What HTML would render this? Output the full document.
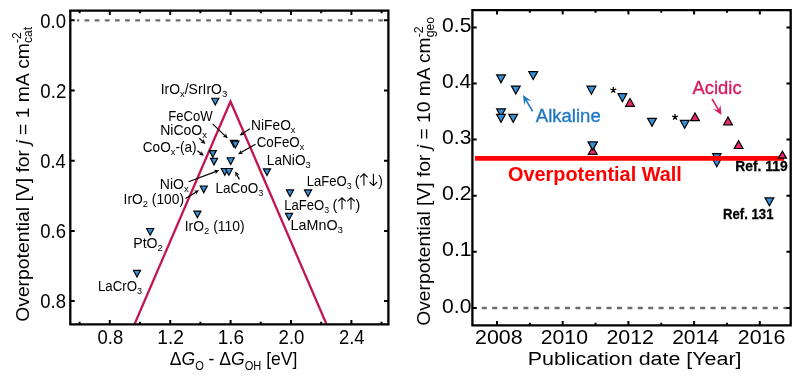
<!DOCTYPE html>
<html><head><meta charset="utf-8"><style>
html,body{margin:0;padding:0;background:#fff;width:800px;height:376px;overflow:hidden}
svg{display:block;font-family:"Liberation Sans", sans-serif;will-change:transform}
</style></head><body>
<svg width="800" height="376" viewBox="0 0 800 376">
<rect width="800" height="376" fill="#fff"/>
<g id="left">
<line x1="77" y1="20.35" x2="387.5" y2="20.35" stroke="#6c6c6c" stroke-width="2.4" stroke-dasharray="4.8 5.33" stroke-dashoffset="2.6"/>
<clipPath id="lclip"><rect x="71.5" y="11.5" width="316" height="312.2"/></clipPath>
<polyline points="133.3,327 230.5,101.5 327.7,327" fill="none" stroke="#c3174f" stroke-width="2.3" stroke-linejoin="miter" stroke-miterlimit="10" clip-path="url(#lclip)"/>
<path d="M70.3,10.6H388.4V324.4H70.3Z" fill="none" stroke="#000" stroke-width="2.3"/>
<path d="M109.80,324.4V320.10M109.80,10.6V14.90M170.20,324.4V320.10M170.20,10.6V14.90M230.60,324.4V320.10M230.60,10.6V14.90M291.00,324.4V320.10M291.00,10.6V14.90M351.40,324.4V320.10M351.40,10.6V14.90M79.60,324.4V321.80M79.60,10.6V13.20M140.00,324.4V321.80M140.00,10.6V13.20M200.40,324.4V321.80M200.40,10.6V13.20M260.80,324.4V321.80M260.80,10.6V13.20M321.20,324.4V321.80M321.20,10.6V13.20M381.60,324.4V321.80M381.60,10.6V13.20M70.3,20.30H74.70M388.4,20.30H384.00M70.3,90.50H74.70M388.4,90.50H384.00M70.3,160.70H74.70M388.4,160.70H384.00M70.3,230.90H74.70M388.4,230.90H384.00M70.3,301.10H74.70M388.4,301.10H384.00" stroke="#000" stroke-width="2" fill="none"/>
</g>
<g id="right">
<line x1="476" y1="308.0" x2="787" y2="308.0" stroke="#6c6c6c" stroke-width="2.4" stroke-dasharray="5.0 5.4" stroke-dashoffset="4.6"/>
<path d="M472.4,10.1H790.7V325.4H472.4Z" fill="none" stroke="#000" stroke-width="2.3"/>
<path d="M497.00,325.4V320.90M497.00,10.1V14.60M562.70,325.4V320.90M562.70,10.1V14.60M628.40,325.4V320.90M628.40,10.1V14.60M694.10,325.4V320.90M694.10,10.1V14.60M759.80,325.4V320.90M759.80,10.1V14.60M529.85,325.4V322.80M529.85,10.1V12.70M595.55,325.4V322.80M595.55,10.1V12.70M661.25,325.4V322.80M661.25,10.1V12.70M726.95,325.4V322.80M726.95,10.1V12.70M472.4,307.90H476.70M790.7,307.90H786.40M472.4,251.80H476.70M790.7,251.80H786.40M472.4,195.70H476.70M790.7,195.70H786.40M472.4,139.60H476.70M790.7,139.60H786.40M472.4,83.50H476.70M790.7,83.50H786.40M472.4,27.40H476.70M790.7,27.40H786.40" stroke="#000" stroke-width="2" fill="none"/>
</g>
<g id="labels">
<g transform="translate(40.31,27.60) scale(0.9257,1)"><text x="0" y="0" font-size="20" font-weight="normal" fill="#000">0.0</text></g>
<g transform="translate(40.30,97.80) scale(0.9346,1)"><text x="0" y="0" font-size="20" font-weight="normal" fill="#000">0.2</text></g>
<g transform="translate(40.31,168.00) scale(0.9170,1)"><text x="0" y="0" font-size="20" font-weight="normal" fill="#000">0.4</text></g>
<g transform="translate(40.31,238.20) scale(0.9257,1)"><text x="0" y="0" font-size="20" font-weight="normal" fill="#000">0.6</text></g>
<g transform="translate(40.31,308.40) scale(0.9257,1)"><text x="0" y="0" font-size="20" font-weight="normal" fill="#000">0.8</text></g>
<g transform="translate(97.61,344.40) scale(0.9219,1)"><text x="0" y="0" font-size="20" font-weight="normal" fill="#000">0.8</text></g>
<g transform="translate(157.26,344.40) scale(0.9584,1)"><text x="0" y="0" font-size="20" font-weight="normal" fill="#000">1.2</text></g>
<g transform="translate(217.68,344.40) scale(0.9490,1)"><text x="0" y="0" font-size="20" font-weight="normal" fill="#000">1.6</text></g>
<g transform="translate(278.57,344.40) scale(0.9308,1)"><text x="0" y="0" font-size="20" font-weight="normal" fill="#000">2.0</text></g>
<g transform="translate(338.98,344.40) scale(0.9219,1)"><text x="0" y="0" font-size="20" font-weight="normal" fill="#000">2.4</text></g>
<g transform="translate(28.60,321.82) rotate(-90) scale(1.0180,1)"><text x="0" y="0" font-size="19" font-weight="normal" fill="#000">Overpotential [V] for <tspan dy="0" font-style="italic">j</tspan> = 1 mA cm<tspan dy="-7.5" font-size="12">-2</tspan><tspan dx="-10.67" dy="11.0" font-size="12">cat</tspan></text></g>
<g transform="translate(169.74,365.00) scale(0.9238,1)"><text x="0" y="0" font-size="19" font-weight="normal" fill="#000">Δ<tspan dy="0" font-style="italic">G</tspan><tspan dy="4.5" font-size="12">O</tspan><tspan dy="-4.5"> - Δ</tspan><tspan dy="0" font-style="italic">G</tspan><tspan dy="4.5" font-size="12">OH</tspan><tspan dy="-4.5"> [eV]</tspan></text></g>
<g transform="translate(160.65,93.75) scale(0.9962,1)"><text x="0" y="0" font-size="14" font-weight="normal" fill="#000">IrO<tspan dy="2.8" font-size="9.5">x</tspan><tspan dy="-2.8">/SrIrO</tspan><tspan dy="2.8" font-size="9.5">3</tspan></text></g>
<g transform="translate(168.33,121.20) scale(0.9370,1)"><text x="0" y="0" font-size="14" font-weight="normal" fill="#000">FeCoW</text></g>
<g transform="translate(160.25,134.80) scale(1.0000,1)"><text x="0" y="0" font-size="14" font-weight="normal" fill="#000">NiCoO<tspan dy="2.8" font-size="9.5">x</tspan></text></g>
<g transform="translate(142.77,151.80) scale(0.9730,1)"><text x="0" y="0" font-size="14" font-weight="normal" fill="#000">CoO<tspan dy="2.8" font-size="9.5">x</tspan><tspan dy="-2.8">-(a)</tspan></text></g>
<g transform="translate(251.07,129.90) scale(0.9851,1)"><text x="0" y="0" font-size="14" font-weight="normal" fill="#000">NiFeO<tspan dy="2.8" font-size="9.5">x</tspan></text></g>
<g transform="translate(256.68,147.00) scale(0.9551,1)"><text x="0" y="0" font-size="14" font-weight="normal" fill="#000">CoFeO<tspan dy="2.8" font-size="9.5">x</tspan></text></g>
<g transform="translate(266.78,165.00) scale(0.9770,1)"><text x="0" y="0" font-size="14" font-weight="normal" fill="#000">LaNiO<tspan dy="2.8" font-size="9.5">3</tspan></text></g>
<g transform="translate(159.75,189.00) scale(1.0036,1)"><text x="0" y="0" font-size="14" font-weight="normal" fill="#000">NiO<tspan dy="2.8" font-size="9.5">x</tspan></text></g>
<g transform="translate(123.57,204.30) scale(0.9873,1)"><text x="0" y="0" font-size="14" font-weight="normal" fill="#000">IrO<tspan dy="2.8" font-size="9.5">2</tspan><tspan dy="-2.8"> (100)</tspan></text></g>
<g transform="translate(215.39,193.00) scale(0.9667,1)"><text x="0" y="0" font-size="14" font-weight="normal" fill="#000">LaCoO<tspan dy="2.8" font-size="9.5">3</tspan></text></g>
<g transform="translate(184.76,230.90) scale(0.9923,1)"><text x="0" y="0" font-size="14" font-weight="normal" fill="#000">IrO<tspan dy="2.8" font-size="9.5">2</tspan><tspan dy="-2.8"> (110)</tspan></text></g>
<g transform="translate(306.73,185.90) scale(0.9333,1)"><text x="0" y="0" font-size="14" font-weight="normal" fill="#000">LaFeO<tspan dy="2.8" font-size="9.5">3</tspan></text></g>
<g transform="translate(354.67,185.90) scale(1.0286,1)"><text x="0" y="0" font-size="14" font-weight="normal" fill="#000">(</text></g>
<g transform="translate(378.25,185.90) scale(1.0000,1)"><text x="0" y="0" font-size="14" font-weight="normal" fill="#000">)</text></g>
<g transform="translate(284.33,209.80) scale(0.9333,1)"><text x="0" y="0" font-size="14" font-weight="normal" fill="#000">LaFeO<tspan dy="2.8" font-size="9.5">3</tspan></text></g>
<g transform="translate(332.57,209.80) scale(1.0286,1)"><text x="0" y="0" font-size="14" font-weight="normal" fill="#000">(</text></g>
<g transform="translate(355.44,209.80) scale(1.0286,1)"><text x="0" y="0" font-size="14" font-weight="normal" fill="#000">)</text></g>
<g transform="translate(290.62,229.80) scale(1.0231,1)"><text x="0" y="0" font-size="14" font-weight="normal" fill="#000">LaMnO<tspan dy="2.8" font-size="9.5">3</tspan></text></g>
<g transform="translate(133.24,248.30) scale(1.0090,1)"><text x="0" y="0" font-size="14" font-weight="normal" fill="#000">PtO<tspan dy="2.8" font-size="9.5">2</tspan></text></g>
<g transform="translate(97.92,291.30) scale(0.9467,1)"><text x="0" y="0" font-size="14" font-weight="normal" fill="#000">LaCrO<tspan dy="2.8" font-size="9.5">3</tspan></text></g>
<g transform="translate(442.11,312.50) scale(1.0552,1)"><text x="0" y="0" font-size="20" font-weight="normal" fill="#000">0.0</text></g>
<g transform="translate(442.10,256.40) scale(1.0654,1)"><text x="0" y="0" font-size="20" font-weight="normal" fill="#000">0.1</text></g>
<g transform="translate(442.10,200.30) scale(1.0654,1)"><text x="0" y="0" font-size="20" font-weight="normal" fill="#000">0.2</text></g>
<g transform="translate(442.11,144.20) scale(1.0552,1)"><text x="0" y="0" font-size="20" font-weight="normal" fill="#000">0.3</text></g>
<g transform="translate(442.12,88.10) scale(1.0453,1)"><text x="0" y="0" font-size="20" font-weight="normal" fill="#000">0.4</text></g>
<g transform="translate(442.11,32.00) scale(1.0552,1)"><text x="0" y="0" font-size="20" font-weight="normal" fill="#000">0.5</text></g>
<g transform="translate(475.03,344.00) scale(1.0682,1)"><text x="0" y="0" font-size="20" font-weight="normal" fill="#000">2008</text></g>
<g transform="translate(540.74,344.00) scale(1.0620,1)"><text x="0" y="0" font-size="20" font-weight="normal" fill="#000">2010</text></g>
<g transform="translate(606.43,344.00) scale(1.0682,1)"><text x="0" y="0" font-size="20" font-weight="normal" fill="#000">2012</text></g>
<g transform="translate(672.14,344.00) scale(1.0558,1)"><text x="0" y="0" font-size="20" font-weight="normal" fill="#000">2014</text></g>
<g transform="translate(737.83,344.00) scale(1.0682,1)"><text x="0" y="0" font-size="20" font-weight="normal" fill="#000">2016</text></g>
<g transform="translate(430.00,325.81) rotate(-90) scale(1.0140,1)"><text x="0" y="0" font-size="19" font-weight="normal" fill="#000">Overpotential [V] for <tspan dy="0" font-style="italic">j</tspan> = 10 mA cm<tspan dy="-7.5" font-size="12">-2</tspan><tspan dx="-10.67" dy="11.0" font-size="12">geo</tspan></text></g>
<g transform="translate(527.81,365.00) scale(1.1287,1)"><text x="0" y="0" font-size="19" font-weight="normal" fill="#000">Publication date [Year]</text></g>
<g transform="translate(535.80,121.60) scale(1.0031,1)"><text stroke="#1f78c0" stroke-width="0.35" x="0" y="0" font-size="18.5" font-weight="normal" fill="#1f78c0">Alkaline</text></g>
<g transform="translate(692.60,94.40) scale(0.9928,1)"><text stroke="#d81a60" stroke-width="0.35" x="0" y="0" font-size="18.5" font-weight="normal" fill="#d81a60">Acidic</text></g>
<g transform="translate(507.98,181.25) scale(1.0208,1)"><text x="0" y="0" font-size="19.5" font-weight="bold" fill="#ff0000">Overpotential Wall</text></g>
<g transform="translate(735.31,171.20) scale(0.9883,1)"><text stroke="#000" stroke-width="0.3" x="0" y="0" font-size="14" font-weight="bold" fill="#000">Ref. 119</text></g>
<g transform="translate(723.06,219.40) scale(0.9397,1)"><text stroke="#000" stroke-width="0.3" x="0" y="0" font-size="14" font-weight="bold" fill="#000">Ref. 131</text></g>
</g>
<path d="M211.72,98.28L218.88,98.28L215.30,105.03Z" fill="#3590d8" stroke="#000" stroke-width="1.15" stroke-linejoin="miter"/>
<path d="M230.22,140.38L237.38,140.38L233.80,147.14Z" fill="#3590d8" stroke="#000" stroke-width="1.15" stroke-linejoin="miter"/>
<path d="M231.82,141.17L238.98,141.17L235.40,147.94Z" fill="#3590d8" stroke="#000" stroke-width="1.15" stroke-linejoin="miter"/>
<path d="M209.22,150.57L216.38,150.57L212.80,157.34Z" fill="#3590d8" stroke="#000" stroke-width="1.15" stroke-linejoin="miter"/>
<path d="M210.42,158.38L217.58,158.38L214.00,165.14Z" fill="#3590d8" stroke="#000" stroke-width="1.15" stroke-linejoin="miter"/>
<path d="M227.12,157.77L234.28,157.77L230.70,164.53Z" fill="#3590d8" stroke="#000" stroke-width="1.15" stroke-linejoin="miter"/>
<path d="M221.22,168.47L228.38,168.47L224.80,175.24Z" fill="#3590d8" stroke="#000" stroke-width="1.15" stroke-linejoin="miter"/>
<path d="M225.32,168.47L232.48,168.47L228.90,175.24Z" fill="#3590d8" stroke="#000" stroke-width="1.15" stroke-linejoin="miter"/>
<path d="M263.42,168.88L270.58,168.88L267.00,175.64Z" fill="#3590d8" stroke="#000" stroke-width="1.15" stroke-linejoin="miter"/>
<path d="M200.22,185.97L207.38,185.97L203.80,192.74Z" fill="#3590d8" stroke="#000" stroke-width="1.15" stroke-linejoin="miter"/>
<path d="M193.82,211.07L200.98,211.07L197.40,217.84Z" fill="#3590d8" stroke="#000" stroke-width="1.15" stroke-linejoin="miter"/>
<path d="M304.42,189.88L311.58,189.88L308.00,196.64Z" fill="#3590d8" stroke="#000" stroke-width="1.15" stroke-linejoin="miter"/>
<path d="M286.42,189.88L293.58,189.88L290.00,196.64Z" fill="#3590d8" stroke="#000" stroke-width="1.15" stroke-linejoin="miter"/>
<path d="M285.42,213.38L292.58,213.38L289.00,220.14Z" fill="#3590d8" stroke="#000" stroke-width="1.15" stroke-linejoin="miter"/>
<path d="M146.62,228.47L153.78,228.47L150.20,235.24Z" fill="#3590d8" stroke="#000" stroke-width="1.15" stroke-linejoin="miter"/>
<path d="M133.42,270.38L140.58,270.38L137.00,277.14Z" fill="#3590d8" stroke="#000" stroke-width="1.15" stroke-linejoin="miter"/>
<line x1="212.60" y1="123.90" x2="225.35" y2="136.06" stroke="#000" stroke-width="1.2"/><path d="M227.70,138.30L222.43,136.59L225.35,136.06L225.74,133.11Z" fill="#000"/>
<line x1="199.30" y1="138.30" x2="203.01" y2="141.70" stroke="#000" stroke-width="1.2"/><path d="M205.40,143.90L200.09,142.29L203.01,141.70L203.34,138.75Z" fill="#000"/>
<line x1="197.40" y1="150.70" x2="201.26" y2="153.77" stroke="#000" stroke-width="1.2"/><path d="M203.80,155.80L198.39,154.56L201.26,153.77L201.39,150.81Z" fill="#000"/>
<line x1="249.90" y1="128.80" x2="242.32" y2="133.73" stroke="#000" stroke-width="1.2"/><path d="M239.60,135.50L242.48,130.76L242.32,133.73L245.10,134.79Z" fill="#000"/>
<line x1="255.50" y1="144.30" x2="240.83" y2="152.60" stroke="#000" stroke-width="1.2"/><path d="M238.00,154.20L241.17,149.65L240.83,152.60L243.53,153.83Z" fill="#000"/>
<line x1="188.60" y1="181.70" x2="216.15" y2="171.43" stroke="#000" stroke-width="1.2"/><path d="M219.20,170.30L215.35,174.29L216.15,171.43L213.68,169.80Z" fill="#000"/>
<line x1="185.50" y1="198.50" x2="196.23" y2="191.90" stroke="#000" stroke-width="1.2"/><path d="M199.00,190.20L196.00,194.86L196.23,191.90L193.48,190.77Z" fill="#000"/>
<line x1="239.40" y1="179.40" x2="236.74" y2="174.46" stroke="#000" stroke-width="1.2"/><path d="M235.20,171.60L239.68,174.86L236.74,174.46L235.46,177.14Z" fill="#000"/>
<path d="M363.90,185.60V174.40M360.10,177.40L363.90,173.80L367.70,177.40" stroke="#000" stroke-width="1.1" fill="none" stroke-linejoin="miter"/>
<path d="M373.40,173.80V185.00M369.60,182.00L373.40,185.60L377.20,182.00" stroke="#000" stroke-width="1.1" fill="none" stroke-linejoin="miter"/>
<path d="M342.00,209.60V198.40M338.20,201.40L342.00,197.80L345.80,201.40" stroke="#000" stroke-width="1.1" fill="none" stroke-linejoin="miter"/>
<path d="M351.00,209.60V198.40M347.20,201.40L351.00,197.80L354.80,201.40" stroke="#000" stroke-width="1.1" fill="none" stroke-linejoin="miter"/>
<path d="M496.61,74.90L505.39,74.90L501.00,82.88Z" fill="#3590d8" stroke="#000" stroke-width="1.2" stroke-linejoin="miter"/>
<path d="M528.81,71.60L537.59,71.60L533.20,79.58Z" fill="#3590d8" stroke="#000" stroke-width="1.2" stroke-linejoin="miter"/>
<path d="M511.41,86.10L520.19,86.10L515.80,94.08Z" fill="#3590d8" stroke="#000" stroke-width="1.2" stroke-linejoin="miter"/>
<path d="M496.61,108.80L505.39,108.80L501.00,116.78Z" fill="#3590d8" stroke="#000" stroke-width="1.2" stroke-linejoin="miter"/>
<path d="M496.61,114.40L505.39,114.40L501.00,122.38Z" fill="#3590d8" stroke="#000" stroke-width="1.2" stroke-linejoin="miter"/>
<path d="M508.81,114.40L517.59,114.40L513.20,122.38Z" fill="#3590d8" stroke="#000" stroke-width="1.2" stroke-linejoin="miter"/>
<path d="M587.01,86.20L595.79,86.20L591.40,94.18Z" fill="#3590d8" stroke="#000" stroke-width="1.2" stroke-linejoin="miter"/>
<path d="M588.31,142.00L597.09,142.00L592.70,149.98Z" fill="#3590d8" stroke="#000" stroke-width="1.2" stroke-linejoin="miter"/>
<path d="M618.01,93.70L626.79,93.70L622.40,101.68Z" fill="#3590d8" stroke="#000" stroke-width="1.2" stroke-linejoin="miter"/>
<path d="M647.61,118.40L656.39,118.40L652.00,126.38Z" fill="#3590d8" stroke="#000" stroke-width="1.2" stroke-linejoin="miter"/>
<path d="M680.31,120.40L689.09,120.40L684.70,128.38Z" fill="#3590d8" stroke="#000" stroke-width="1.2" stroke-linejoin="miter"/>
<path d="M765.01,197.90L773.79,197.90L769.40,205.88Z" fill="#3590d8" stroke="#000" stroke-width="1.2" stroke-linejoin="miter"/>
<path d="M588.31,154.30L597.09,154.30L592.70,146.52Z" fill="#e8286a" stroke="#000" stroke-width="1.2" stroke-linejoin="miter"/>
<path d="M625.61,106.30L634.39,106.30L630.00,98.52Z" fill="#e8286a" stroke="#000" stroke-width="1.2" stroke-linejoin="miter"/>
<path d="M690.61,120.70L699.39,120.70L695.00,112.92Z" fill="#e8286a" stroke="#000" stroke-width="1.2" stroke-linejoin="miter"/>
<path d="M723.61,124.80L732.39,124.80L728.00,117.02Z" fill="#e8286a" stroke="#000" stroke-width="1.2" stroke-linejoin="miter"/>
<path d="M734.21,148.50L742.99,148.50L738.60,140.72Z" fill="#e8286a" stroke="#000" stroke-width="1.2" stroke-linejoin="miter"/>
<path d="M588.31,142.00L597.09,142.00L592.70,149.98Z" fill="#3590d8" stroke="#000" stroke-width="1.2" stroke-linejoin="miter"/>
<path d="M712.61,153.60L720.99,153.60L716.80,161.08Z" fill="#3590d8" stroke="#000" stroke-width="1.2" stroke-linejoin="miter"/>
<path d="M712.61,159.20L720.99,159.20L716.80,166.68Z" fill="#3590d8" stroke="#000" stroke-width="1.2" stroke-linejoin="miter"/>
<line x1="475" y1="158.3" x2="784" y2="158.3" stroke="#ff0000" stroke-width="4.8"/>
<path d="M778.36,158.10L786.44,158.10L782.40,151.22Z" fill="#e8286a" stroke="#000" stroke-width="1.2" stroke-linejoin="miter"/>
<path d="M613.30,90.00L613.30,86.90M613.30,90.00L610.35,89.04M613.30,90.00L611.48,92.51M613.30,90.00L615.12,92.51M613.30,90.00L616.25,89.04" stroke="#000" stroke-width="1.3" stroke-linecap="butt" fill="none"/>
<path d="M675.00,117.00L675.00,113.90M675.00,117.00L672.05,116.04M675.00,117.00L673.18,119.51M675.00,117.00L676.82,119.51M675.00,117.00L677.95,116.04" stroke="#000" stroke-width="1.3" stroke-linecap="butt" fill="none"/>
<line x1="532.60" y1="111.30" x2="525.89" y2="99.91" stroke="#1f78c0" stroke-width="1.6"/><path d="M523.00,95.00L531.53,101.00L525.89,99.91L524.12,105.37Z" fill="#1f78c0"/>
<line x1="712.00" y1="98.80" x2="718.63" y2="110.18" stroke="#d81a60" stroke-width="1.6"/><path d="M721.50,115.10L713.00,109.06L718.63,110.18L720.43,104.73Z" fill="#d81a60"/>
</svg>
</body></html>
